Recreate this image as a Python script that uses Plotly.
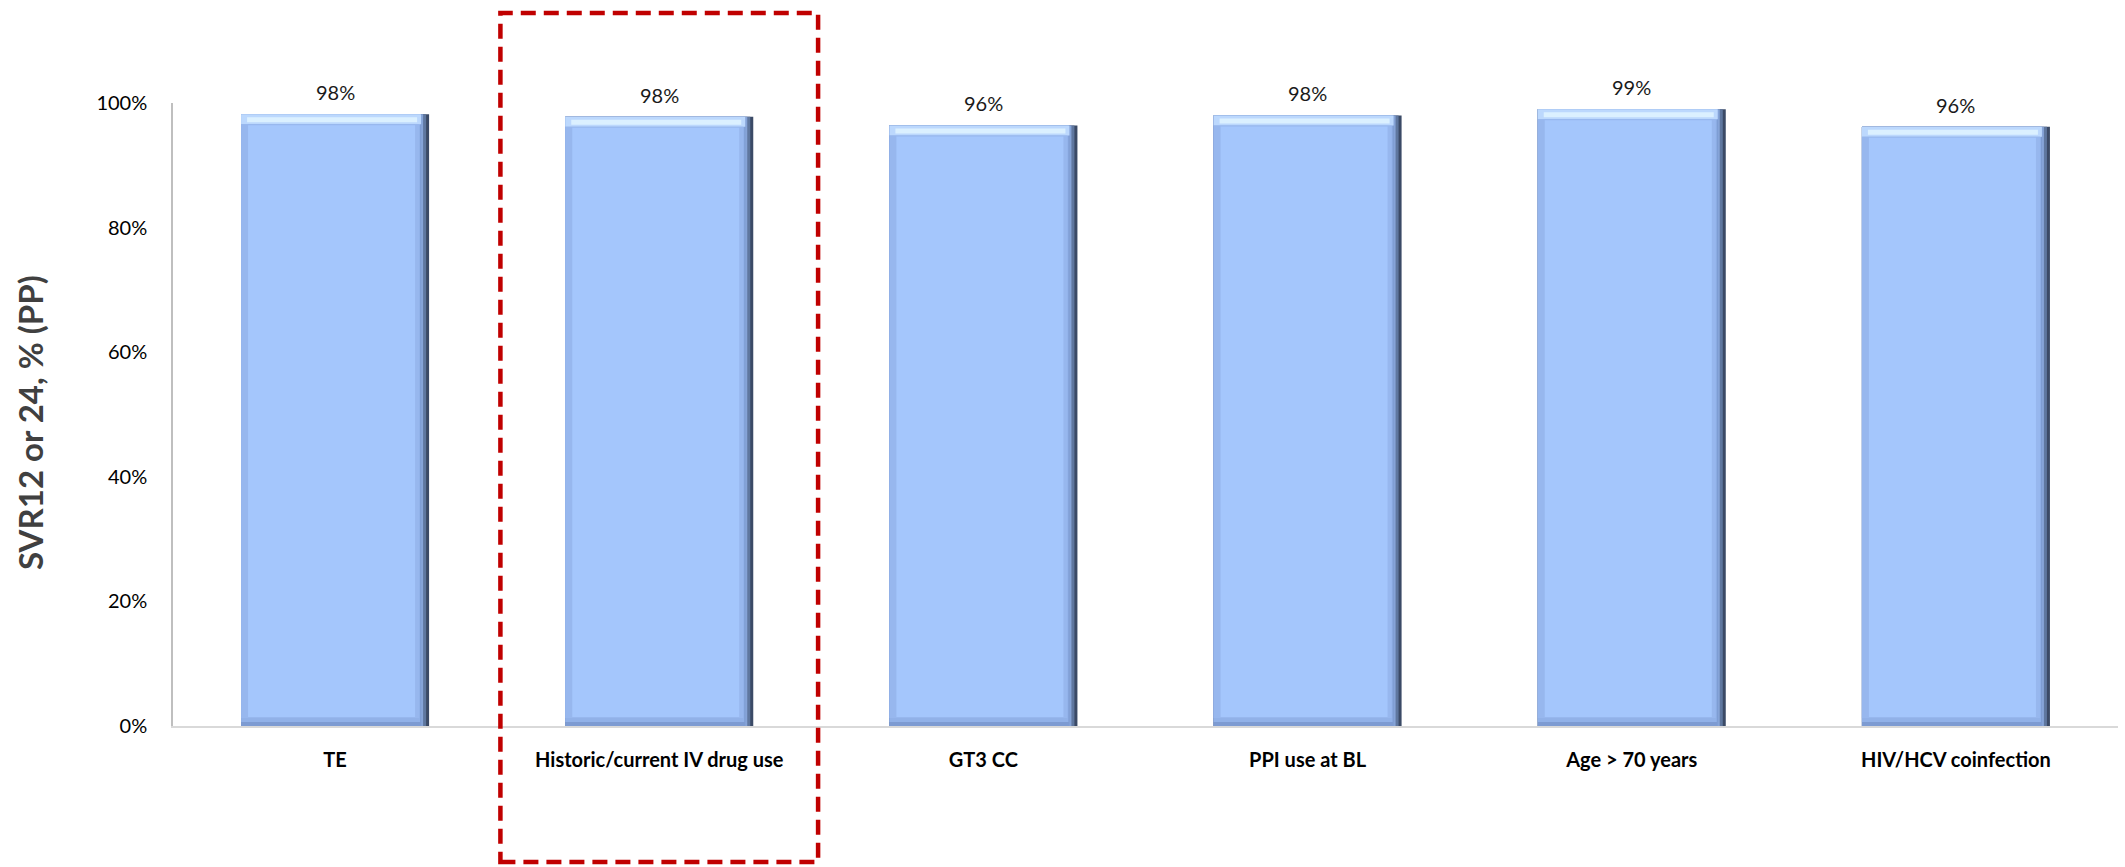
import plotly.graph_objects as go

# Subgroup SVR rates
categories = ["TE", "Historic/current IV drug use", "GT3 CC", "PPI use at BL",
              "Age > 70 years", "HIV/HCV coinfection"]
svr_pct = [98.2, 97.8, 96.4, 98.0, 99.0, 96.2]
y_ticks = [0, 20, 40, 60, 80, 100]
y_tick_labels = ["0%", "20%", "40%", "60%", "80%", "100%"]
highlighted = "Historic/current IV drug use"

FONT = "Lato"
W, H = 2125, 867
M_L, M_R, M_T, M_B = 173, 7, 103, 141
plot_w = W - M_L - M_R
plot_h = H - M_T - M_B
px_x = len(categories) / plot_w      # category units per pixel
px_y = 100.0 / plot_h                # percent per pixel

BAR_W = 0.58
HALF = BAR_W / 2


def layer(name, color, left_px=0, right_px=0, bottom_px=0, top_px=0, height_px=None):
    """One layer of the bevelled bar: a bar inset by a few pixels on each side."""
    l = left_px * px_x
    r = right_px * px_x
    offs = [-HALF + l] * len(svr_pct)
    widths = [BAR_W - l - r] * len(svr_pct)
    if height_px is None:
        bases = [bottom_px * px_y] * len(svr_pct)
        heights = [v - top_px * px_y - bottom_px * px_y for v in svr_pct]
    else:
        bases = [v - (top_px + height_px) * px_y for v in svr_pct]
        heights = [height_px * px_y] * len(svr_pct)
    return go.Bar(
        name=name, x=categories, y=heights, base=bases, offset=offs, width=widths,
        marker=dict(color=color, line=dict(width=0)), hoverinfo="skip", showlegend=False,
    )


fig = go.Figure()
fig.add_trace(layer("edge", "#3b4a66"))
fig.add_trace(layer("edge_inner", "#5f779f", right_px=3))
fig.add_trace(layer("edge_soft", "#86a4d8", right_px=6))
fig.add_trace(layer("bottom", "#7d9bd2", right_px=8))
fig.add_trace(layer("bottom_soft", "#91b1e8", right_px=9, bottom_px=4))
fig.add_trace(layer("top_outer", "#bcd8fd", right_px=8, height_px=10))
fig.add_trace(layer("top_glow", "#dbf0ff", left_px=6, right_px=12, top_px=3, height_px=5))
fig.add_trace(layer("left", "#97b7ee", right_px=10, bottom_px=8, top_px=10))
fig.add_trace(layer("face", "#a4c6fc", left_px=7, right_px=14, bottom_px=9, top_px=11))

# value labels above the bars
for c, v in zip(categories, svr_pct):
    fig.add_annotation(
        x=c, y=v, xref="x", yref="y", text=f"{v:.0f}%", showarrow=False,
        yanchor="middle", yshift=22, font=dict(family=FONT, size=20, color="#1a1a1a"),
    )

# y-axis title
fig.add_annotation(
    x=-(M_L - 30) / plot_w, y=(H - M_B - 423) / plot_h, xref="paper", yref="paper",
    text="<b>SVR12 or 24, % (PP)</b>", textangle=-90, showarrow=False,
    xanchor="center", yanchor="middle", font=dict(family=FONT, size=33, color="#404040"),
)

# dashed frame around the highlighted subgroup
hi = categories.index(highlighted)
fig.add_shape(
    type="rect", xref="x", yref="paper",
    x0=hi - 0.49, x1=hi + 0.49,
    y0=(H - M_B - 862) / plot_h,
    y1=(H - M_B - 13) / plot_h,
    line=dict(color="#C00000", width=4.5, dash="15px,8px"), fillcolor="rgba(0,0,0,0)",
    layer="above",
)

fig.update_layout(
    width=W, height=H, margin=dict(l=M_L, r=M_R, t=M_T, b=M_B),
    paper_bgcolor="white", plot_bgcolor="white", barmode="overlay",
    hovermode=False, showlegend=False,
)
fig.update_xaxes(
    type="category", categoryorder="array", categoryarray=categories,
    range=[-0.5, len(categories) - 0.5],
    showline=True, linecolor="#d9d9d9", linewidth=1.5, showgrid=False, ticks="",
    tickfont=dict(family=FONT, size=20, color="#000000", weight="bold"),
    ticklabelstandoff=15, zeroline=False,
)
fig.update_yaxes(
    range=[0, 100], tickvals=y_ticks, ticktext=y_tick_labels,
    showline=True, linecolor="#bfbfbf", linewidth=1.5, showgrid=False, ticks="",
    tickfont=dict(family=FONT, size=20, color="#000000"), ticklabelstandoff=20,
    zeroline=False,
)

fig.write_html("out.html")
